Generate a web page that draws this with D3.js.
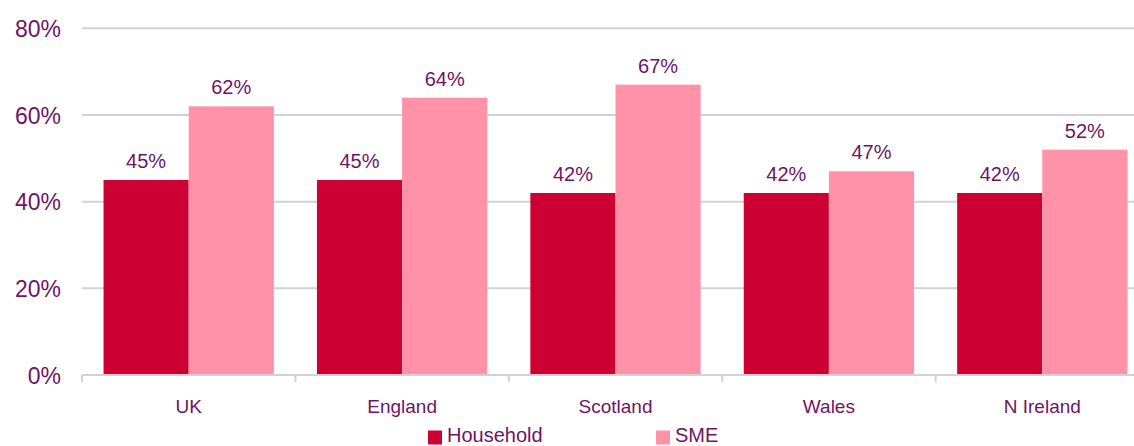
<!DOCTYPE html>
<html>
<head>
<meta charset="utf-8">
<script src="https://cdn.jsdelivr.net/npm/d3@7"></script>
<style>
  html, body { margin: 0; padding: 0; background: #fff; overflow: hidden; }
  svg { display: block; font-family: "Liberation Sans", Arial, sans-serif; }
</style>
</head>
<body>
<svg id="chart" width="1134" height="446"></svg>
<script>
const categories = ["UK", "England", "Scotland", "Wales", "N Ireland"];
const seriesNames = ["Household", "SME"];
const household = [45, 45, 42, 42, 42];
const sme = [62, 64, 67, 47, 52];
const yTicks = [0, 20, 40, 60, 80];

const colors = { Household: "#cc0033", SME: "#ff91a8" };
const textColor = "#6e1469";
const gridColor = "#d2d2d2";

const svg = d3.select("#chart");
const plotLeft = 82, plotRight = 1149, plotTop = 28.3, plotBottom = 375;

const x = d3.scaleBand().domain(categories).range([plotLeft, plotRight]).paddingInner(0).paddingOuter(0);
const inner = d3.scaleBand().domain(seriesNames).range([0, x.bandwidth()]).paddingOuter(0.253).paddingInner(0);
const y = d3.scaleLinear().domain([0, 80]).range([plotBottom, plotTop]);

// horizontal gridlines
svg.append("g").selectAll("line").data(yTicks.filter(d => d > 0)).join("line")
  .attr("x1", plotLeft).attr("x2", 1134)
  .attr("y1", d => y(d)).attr("y2", d => y(d))
  .attr("stroke", gridColor).attr("stroke-width", 2);

// y axis labels
const yAxis = d3.axisLeft(y).tickValues(yTicks).tickFormat(d => d + "%").tickSize(0).tickPadding(0);
const gy = svg.append("g").attr("transform", `translate(61,0)`).call(yAxis);
gy.select(".domain").remove();
gy.selectAll("text").attr("fill", textColor).attr("font-size", 23)
  .attr("font-family", "Liberation Sans, Arial, sans-serif").attr("dy", "0.35em");

// bars
const rows = categories.map((c, i) => ({ cat: c, values: [
  { key: "Household", value: household[i] },
  { key: "SME", value: sme[i] }
]}));

const groups = svg.append("g").selectAll("g").data(rows).join("g")
  .attr("transform", d => `translate(${x(d.cat)},0)`);

groups.selectAll("rect").data(d => d.values).join("rect")
  .attr("x", d => inner(d.key))
  .attr("width", inner.bandwidth())
  .attr("y", d => y(d.value))
  .attr("height", d => y(0) - y(d.value))
  .attr("fill", d => colors[d.key]);

groups.selectAll("text").data(d => d.values).join("text")
  .attr("x", d => inner(d.key) + inner.bandwidth() / 2)
  .attr("y", d => y(d.value) - 12)
  .attr("text-anchor", "middle")
  .attr("font-size", 20)
  .attr("fill", textColor)
  .text(d => d.value + "%");

// x axis with tick marks at category boundaries
svg.append("line")
  .attr("x1", plotLeft).attr("x2", 1134)
  .attr("y1", plotBottom).attr("y2", plotBottom)
  .attr("stroke", gridColor).attr("stroke-width", 2);

const boundaries = categories.map(c => x(c)).concat([x.range()[1]]);
svg.append("g").selectAll("line").data(boundaries.filter(b => b <= 1134)).join("line")
  .attr("x1", d => d).attr("x2", d => d)
  .attr("y1", plotBottom).attr("y2", plotBottom + 7)
  .attr("stroke", gridColor).attr("stroke-width", 2);

const xAxis = d3.axisBottom(x).tickSize(0).tickPadding(0);
const gx = svg.append("g").attr("transform", `translate(0,${plotBottom})`).call(xAxis);
gx.select(".domain").remove();
gx.selectAll("text").attr("fill", textColor).attr("font-size", 19)
  .attr("font-family", "Liberation Sans, Arial, sans-serif")
  .attr("dy", 0).attr("y", 38);

// legend
const legendPos = [428, 656];
const legend = svg.append("g").selectAll("g").data(seriesNames).join("g")
  .attr("transform", (d, i) => `translate(${legendPos[i]},0)`);
legend.append("rect").attr("x", 0).attr("y", 430.5).attr("width", 14).attr("height", 14)
  .attr("fill", d => colors[d]);
legend.append("text").attr("x", 19).attr("y", 441.5)
  .attr("font-size", 20).attr("fill", textColor).text(d => d);
</script>
</body>
</html>
